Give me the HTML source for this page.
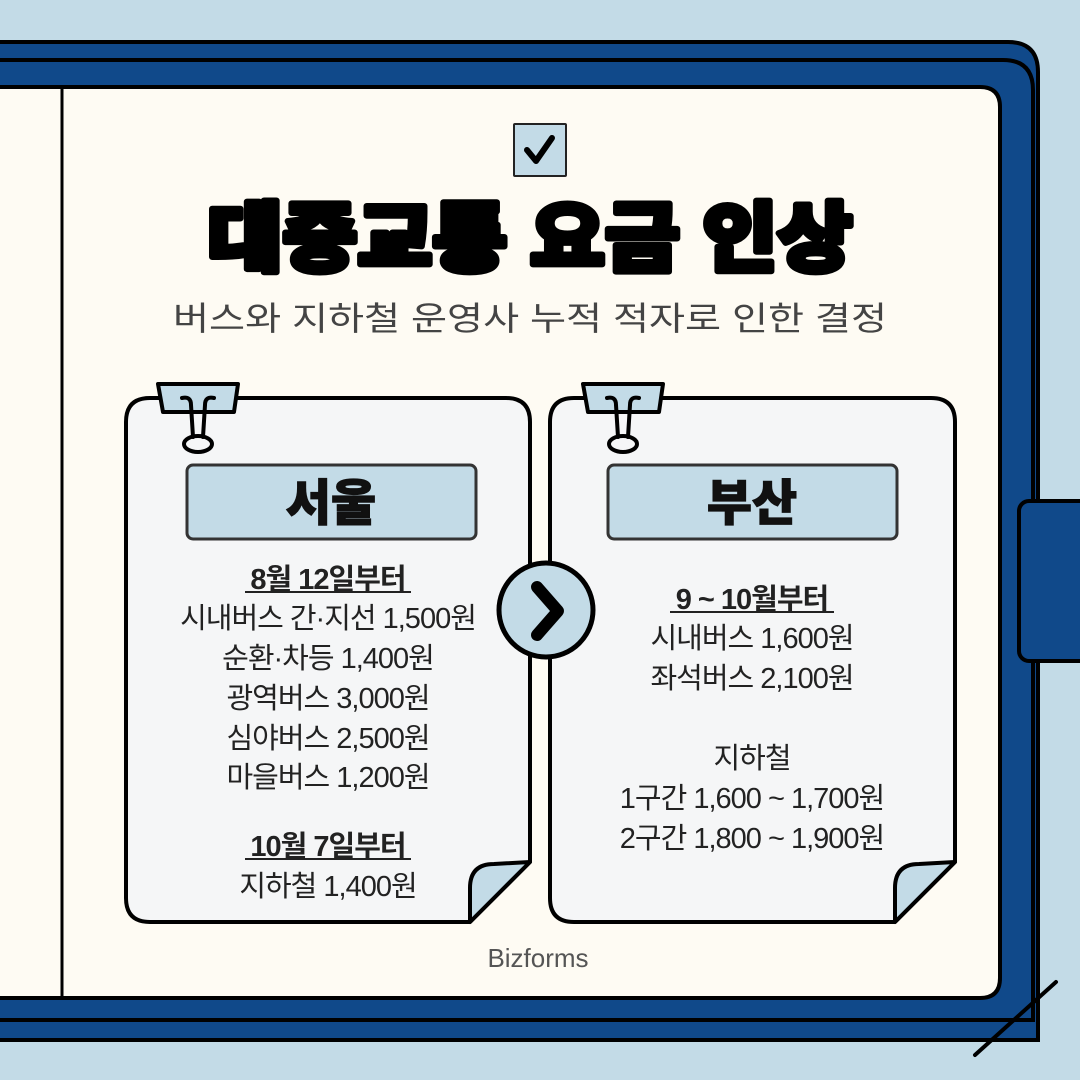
<!DOCTYPE html>
<html><head><meta charset="utf-8"><style>
html,body{margin:0;padding:0;background:#c3dbe7;}
svg{display:block}
text{font-family:"Liberation Sans","Noto Sans CJK KR",sans-serif;}
</style></head><body>
<svg width="1080" height="1080" viewBox="0 0 1080 1080" xmlns="http://www.w3.org/2000/svg">
<rect width="1080" height="1080" fill="#c3dbe7"/>
<!-- back panel -->
<path d="M-10 42 H1008 Q1038 42 1038 72 V1040 H-10 Z" fill="#10498a" stroke="#000" stroke-width="4"/>
<!-- front panel -->
<path d="M-10 60 H1003 Q1033 60 1033 90 V1020 H-10 Z" fill="#10498a" stroke="#000" stroke-width="4"/>
<!-- tab -->
<rect x="1019" y="501" width="80" height="160" rx="10" fill="#10498a" stroke="#000" stroke-width="4"/>
<!-- cream page -->
<path d="M-10 87 H980 Q1000 87 1000 107 V978 Q1000 998 980 998 H-10 Z" fill="#fefbf3" stroke="#000" stroke-width="4"/>
<line x1="62" y1="88" x2="62" y2="997" stroke="#000" stroke-width="3"/>
<line x1="975" y1="1055" x2="1056" y2="982" stroke="#000" stroke-width="4" stroke-linecap="round"/>
<!-- check -->
<rect x="514" y="124" width="52" height="52" fill="#c3dbe7" stroke="#222" stroke-width="2" rx="1"/>
<path d="M527 150 L536 161 L552 138" fill="none" stroke="#000" stroke-width="6" stroke-linecap="round" stroke-linejoin="round"/>
<!-- title -->
<text x="530" y="265" text-anchor="middle" font-size="76" font-weight="900" fill="#000" stroke="#000" stroke-width="6" stroke-linejoin="round" textLength="645" lengthAdjust="spacingAndGlyphs">대중교통 요금 인상</text>
<text x="530" y="330" text-anchor="middle" font-size="33" fill="#444" textLength="714" lengthAdjust="spacingAndGlyphs">버스와 지하철 운영사 누적 적자로 인한 결정</text>
<!-- cards -->
<path d="M150 398 H506 Q530 398 530 422 V862 L470 922 H150 Q126 922 126 898 V422 Q126 398 150 398 Z" fill="#f5f6f7" stroke="#000" stroke-width="4" stroke-linejoin="round"/>
<path d="M530 862 L470 922 V888 Q470 864 494 864 Z" fill="#c3dbe7" stroke="#000" stroke-width="4" stroke-linejoin="round"/>
<path d="M574 398 H931 Q955 398 955 422 V862 L895 922 H574 Q550 922 550 898 V422 Q550 398 574 398 Z" fill="#f5f6f7" stroke="#000" stroke-width="4" stroke-linejoin="round"/>
<path d="M955 862 L895 922 V888 Q895 864 919 864 Z" fill="#c3dbe7" stroke="#000" stroke-width="4" stroke-linejoin="round"/>
<!-- clips -->
<g id="clip1" fill="none" stroke="#000" stroke-width="4" stroke-linecap="round" stroke-linejoin="round">
<path d="M158 384 H238 L234 412 H163 Z" fill="#c3dbe7"/>
<path d="M182 398 Q191 396 191 405 L193 437"/>
<path d="M214 398 Q205 396 205 405 L203 437"/>
<ellipse cx="198" cy="444" rx="14" ry="8"/>
</g>
<use href="#clip1" x="425"/>
<!-- labels -->
<rect x="187" y="465" width="289" height="74" rx="6" fill="#c3dbe7" stroke="#333" stroke-width="3"/>
<rect x="608" y="465" width="289" height="74" rx="6" fill="#c3dbe7" stroke="#333" stroke-width="3"/>
<text x="331" y="520" text-anchor="middle" font-size="49" font-weight="900" fill="#111" stroke="#111" stroke-width="1.2">서울</text>
<text x="752" y="520" text-anchor="middle" font-size="49" font-weight="900" fill="#111" stroke="#111" stroke-width="1.2">부산</text>
<!-- circle -->
<circle cx="546" cy="610" r="47" fill="#c3dbe7" stroke="#000" stroke-width="5"/>
<path d="M537 587 L558 611 L537 635" fill="none" stroke="#000" stroke-width="12" stroke-linecap="round" stroke-linejoin="round"/>
<g font-size="29" fill="#222" text-anchor="middle" letter-spacing="-1">
<text x="328" y="589" font-weight="700">8월 12일부터</text>
<line x1="245" y1="592" x2="411" y2="592" stroke="#222" stroke-width="2"/>
<text x="328" y="628">시내버스 간·지선 1,500원</text>
<text x="328" y="668">순환·차등 1,400원</text>
<text x="328" y="708">광역버스 3,000원</text>
<text x="328" y="748">심야버스 2,500원</text>
<text x="328" y="787">마을버스 1,200원</text>
<text x="328" y="856" font-weight="700">10월 7일부터</text>
<line x1="245" y1="859" x2="411" y2="859" stroke="#222" stroke-width="2"/>
<text x="328" y="896">지하철 1,400원</text>
<text x="752" y="609" font-weight="700">9 ~ 10월부터</text>
<line x1="670" y1="612" x2="834" y2="612" stroke="#222" stroke-width="2"/>
<text x="752" y="648">시내버스 1,600원</text>
<text x="752" y="688">좌석버스 2,100원</text>
<text x="752" y="768">지하철</text>
<text x="752" y="808">1구간 1,600 ~ 1,700원</text>
<text x="752" y="848">2구간 1,800 ~ 1,900원</text>
</g>
<text x="538" y="967" text-anchor="middle" font-size="26" fill="#555">Bizforms</text>
</svg>
</body></html>
